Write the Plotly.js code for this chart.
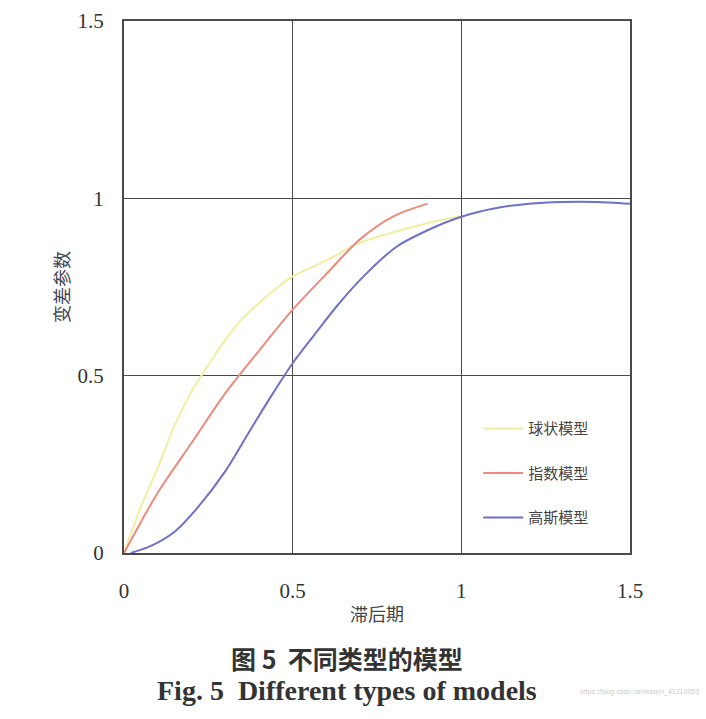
<!DOCTYPE html>
<html>
<head>
<meta charset="utf-8">
<script src="https://cdn.plot.ly/plotly-3.0.1.min.js"></script>
<style>
html,body{margin:0;padding:0;background:#fff;}
#chart{width:706px;height:719px;}
</style>
</head>
<body>
<div id="chart"></div>
<script>
// Data
const seriesNames = ['球状模型', '指数模型', '高斯模型'];

const sphericalX = [0, 0.05, 0.1, 0.15, 0.2, 0.25, 0.3, 0.35, 0.4, 0.45, 0.5, 0.6, 0.7, 0.8, 0.9, 1.0];
const sphericalY = [0, 0.13, 0.24, 0.36, 0.455, 0.53, 0.6, 0.66, 0.705, 0.745, 0.78, 0.825, 0.875, 0.905, 0.93, 0.95];

const exponentialX = [0, 0.1, 0.2, 0.3, 0.4, 0.5, 0.6, 0.7, 0.8, 0.9];
const exponentialY = [0, 0.17, 0.31, 0.45, 0.57, 0.686, 0.787, 0.885, 0.95, 0.985];

const gaussianX = [0.02, 0.08, 0.15, 0.22, 0.3, 0.37, 0.44, 0.5, 0.57, 0.63, 0.71, 0.81, 0.9, 1.0, 1.1, 1.2, 1.3, 1.4, 1.5];
const gaussianY = [0, 0.02, 0.06, 0.13, 0.23, 0.34, 0.448, 0.535, 0.622, 0.695, 0.78, 0.865, 0.91, 0.948, 0.972, 0.985, 0.99, 0.99, 0.985];

const tickVals = [0, 0.5, 1, 1.5];
const tickText = ['0', '0.5', '1', '1.5'];

const xTitle = '滞后期';
const yTitle = '变差参数';
const captionCn = '图 5  不同类型的模型';
const captionEn = 'Fig. 5  Different types of models';
const watermark = 'https://blog.csdn.net/weixin_41210053';

const serif = '"Liberation Serif", "Noto Sans CJK SC", serif';
const cjk = '"Noto Sans CJK SC", "Liberation Serif", serif';

const traces = [
  {x: sphericalX, y: sphericalY, name: seriesNames[0], mode: 'lines', line: {color: '#f2eea0', width: 2, shape: 'spline', smoothing: 0.8}, legendgroup: 'a'},
  {x: exponentialX, y: exponentialY, name: seriesNames[1], mode: 'lines', line: {color: '#ee8a7c', width: 2, shape: 'spline', smoothing: 0.8}, legendgroup: 'b'},
  {x: gaussianX, y: gaussianY, name: seriesNames[2], mode: 'lines', line: {color: '#6f70cc', width: 2, shape: 'spline', smoothing: 0.8}, legendgroup: 'c'}
];

const axisCommon = {
  range: [0, 1.5],
  tickvals: tickVals,
  ticktext: tickText,
  showgrid: true,
  gridcolor: '#4a4a4a',
  gridwidth: 1.5,
  zeroline: false,
  showline: true,
  linecolor: '#4a4a4a',
  linewidth: 2,
  mirror: true,
  ticks: '',
  tickfont: {family: serif, size: 21, color: '#333'},
  fixedrange: true
};

const layout = {
  width: 706,
  height: 719,
  margin: {l: 124, r: 76, t: 21, b: 166},
  paper_bgcolor: '#fff',
  plot_bgcolor: '#fff',
  showlegend: true,
  legend: {
    x: 0.7, y: 0.15, xanchor: 'left', yanchor: 'middle',
    bgcolor: 'rgba(255,255,255,0)',
    borderwidth: 0,
    font: {family: cjk, size: 15, color: '#444'},
    tracegroupgap: 22,
    itemwidth: 40
  },
  xaxis: Object.assign({}, axisCommon, {
    ticklabelstandoff: 18,
    title: {text: xTitle, font: {family: cjk, size: 18, color: '#444'}, standoff: 6}
  }),
  yaxis: Object.assign({}, axisCommon, {
    ticklabelstandoff: 14,
    title: {text: yTitle, font: {family: cjk, size: 18, color: '#445'}, standoff: 3}
  }),
  annotations: [
    {text: '<b>' + captionCn + '</b>', xref: 'paper', yref: 'paper', x: 0.44, y: -0.197, xanchor: 'center', yanchor: 'middle', showarrow: false,
     font: {family: cjk, size: 25, color: '#333'}},
    {text: '<b>' + captionEn + '</b>', xref: 'paper', yref: 'paper', x: 0.44, y: -0.259, xanchor: 'center', yanchor: 'middle', showarrow: false,
     font: {family: serif, size: 28, color: '#333'}},
    {text: watermark, xref: 'paper', yref: 'paper', x: 1.14, y: -0.262, xanchor: 'right', yanchor: 'middle', showarrow: false,
     font: {family: 'Liberation Sans', size: 7, color: '#ccc'}}
  ]
};

Plotly.newPlot('chart', traces, layout, {displayModeBar: false, staticPlot: true});
</script>
</body>
</html>
